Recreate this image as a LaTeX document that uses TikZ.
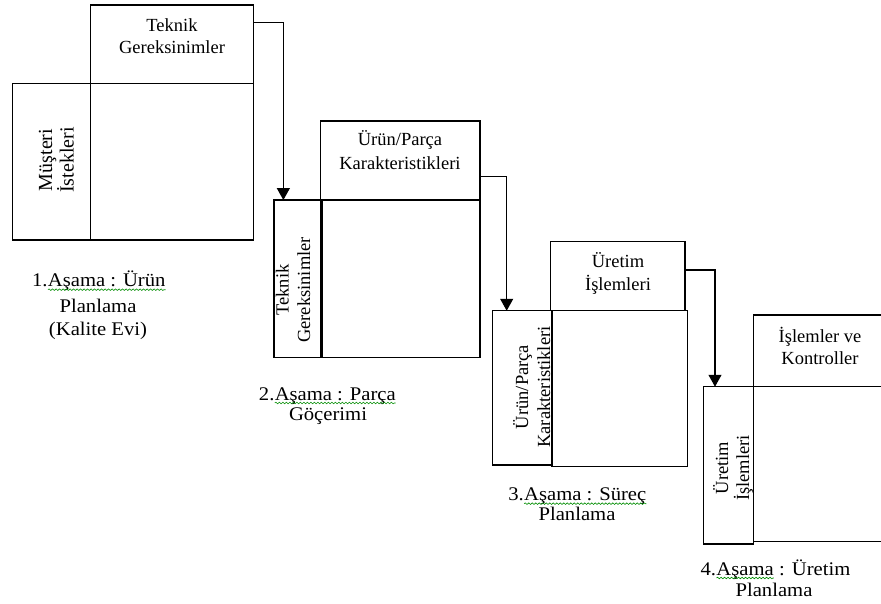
\documentclass[tikz,border=0pt]{standalone}
\usepackage{fontspec}
\setmainfont{Liberation Serif}
\newfontfamily\lblfont[FakeStretch=1.07]{Liberation Serif}
\usetikzlibrary{arrows.meta,decorations.pathmorphing}
\tikzset{
 box/.style={draw, line width=1.2pt, outer sep=0pt, inner sep=0pt},
 bt/.style={font=\fontsize{18.5}{22}\selectfont, inner sep=0pt, anchor=base},
 rt/.style={bt, rotate=90},
 rtbig/.style={rt, font=\fontsize{20}{22}\selectfont},
 lt/.style={font=\lblfont\fontsize{19.3}{22}\selectfont, inner sep=0pt, anchor=base},
 arr/.style={line width=1.2pt, -{Triangle[width=13pt,length=12pt]}},
 thickedge/.style={line width=2.8pt},
 wavyline/.style={draw=green!55!black, line width=0.6pt, decorate, decoration={snake, amplitude=0.8pt, segment length=3.5pt}},
}
\newcommand\wv[1]{\tikz[baseline=(w.base)]{\node[inner sep=0pt,outer sep=0pt,anchor=base,rotate=0](w){#1};\draw[wavyline]([yshift=-3pt]w.base west)--([yshift=-3pt]w.base east);}}
\begin{document}
\begin{tikzpicture}[x=1pt,y=-1pt]
\useasboundingbox (0,0) rectangle (881,604);
\clip (0,0) rectangle (881,604);
% ---------- block 1
\node[box, minimum width=162.6pt, minimum height=78.3pt] (t1) at (172,44.2) {};
\node[box, minimum width=78.4pt, minimum height=156.7pt] (l1) at (51.5,161.7) {};
\node[box, minimum width=162.6pt, minimum height=156.7pt] (m1) at (172,161.7) {};
\node[bt] (t1a) at (172,31.7) {Teknik};
\node[bt] (t1b) at (172,54) {Gereksinimler};
\node[rtbig] (l1a) at (52,160) {Müşteri};
\node[rtbig] (l1b) at (73.5,160) {İstekleri};
\node[lt] (s1a) at (99,286.7) {1.\wv{Aşama : Ürün}};
\node[lt] (s1b) at (98,312.3) {Planlama};
\node[lt] (s1c) at (98,335) {(Kalite Evi)};
% ---------- block 2
\node[box, minimum width=159.3pt, minimum height=79pt] (t2) at (400.3,160.5) {};
\node[box, minimum width=47.7pt, minimum height=157.3pt] (l2) at (297.9,278.7) {};
\node[box, minimum width=158.3pt, minimum height=157.3pt] (m2) at (400.9,278.7) {};
\draw[thickedge] (m2.south west) -- (m2.north west) -- (m2.north east);
\node[bt] (t2a) at (400,146) {Ürün/Parça};
\node[bt] (t2b) at (400,170) {Karakteristikleri};
\node[rt] (l2a) at (288.5,290) {Teknik};
\node[rt] (l2b) at (310,290) {Gereksinimler};
\node[lt] (s2a) at (327.5,400) {2.\wv{Aşama : Parça}};
\node[lt] (s2b) at (328,420) {Göçerimi};
% ---------- block 3
\node[box, minimum width=134.3pt, minimum height=69pt] (t3) at (617.9,276.2) {};
\node[box, minimum width=59pt, minimum height=154.3pt] (l3) at (522.2,387.9) {};
\node[box, minimum width=135.3pt, minimum height=156pt] (m3) at (619.7,388.7) {};
\node[bt] (t3a) at (618,268) {Üretim};
\node[bt] (t3b) at (618,290.7) {İşlemleri};
\node[rt] (l3a) at (528,387) {Ürün/Parça};
\node[rt] (l3b) at (550,387) {Karakteristikleri};
\node[lt] (s3a) at (577.5,500.7) {3.\wv{Aşama : Süreç}};
\node[lt] (s3b) at (577,520) {Planlama};
% ---------- block 4
\node[box, minimum width=160pt, minimum height=71.7pt] (t4) at (833.3,350.8) {};
\node[box, minimum width=50pt, minimum height=157.3pt] (l4) at (728.3,465.4) {};
\node[box, minimum width=160pt, minimum height=155pt] (m4) at (833.3,464.2) {};
\node[bt] (t4a) at (820,342) {İşlemler ve};
\node[bt] (t4b) at (820,364) {Kontroller};
\node[rt] (l4a) at (728,468) {Üretim};
\node[rt] (l4b) at (749,468) {İşlemleri};
\node[lt] (s4a) at (775.5,575) {4.\wv{Aşama} : Üretim};
\node[lt] (s4b) at (774,596.7) {Planlama};
% ---------- arrows
\draw[arr] ([yshift=-17.7pt]t1.north east) -| ([xshift=9.3pt]l2.north west);
\draw[arr] ([yshift=-55.7pt]t2.north east) -| ([xshift=14pt]l3.north west);
\draw[arr] ([yshift=-28.3pt]t3.north east) -| ([xshift=11.7pt]l4.north west);
\end{tikzpicture}
\end{document}
